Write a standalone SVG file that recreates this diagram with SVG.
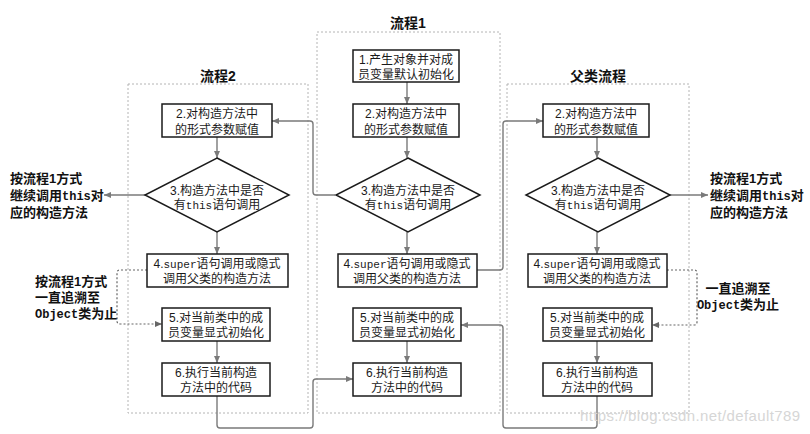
<svg xmlns="http://www.w3.org/2000/svg" width="810" height="434" viewBox="0 0 810 434">
<defs>
<marker id="ah" markerUnits="userSpaceOnUse" markerWidth="8" markerHeight="7" refX="7" refY="3.5" orient="auto">
<path d="M0,0.5 L7,3.5 L0,6.5 z" fill="#7a7a7a"/>
</marker>
<marker id="ahd" markerUnits="userSpaceOnUse" markerWidth="8" markerHeight="7" refX="7" refY="3.5" orient="auto">
<path d="M0,0.5 L7,3.5 L0,6.5 z" fill="#666"/>
</marker>
</defs>
<style>
.cont{fill:none;stroke:#b4b4b4;stroke-width:1;stroke-dasharray:2 2}
.box{fill:#fff;stroke:#1a1a1a;stroke-width:1.5}
.dia{fill:#fff;stroke:#1a1a1a;stroke-width:1.5}
.t{font-family:"Liberation Sans","Noto Sans CJK SC",sans-serif;font-size:12px;fill:#1a1a1a;text-anchor:middle}
.m{font-family:"Liberation Mono","Noto Sans CJK SC",monospace;font-size:11px}
.title{font-family:"Liberation Sans","Noto Sans CJK SC",sans-serif;font-size:14px;font-weight:bold;fill:#111;text-anchor:middle}
.lb{font-family:"Liberation Sans","Noto Sans CJK SC",sans-serif;font-size:13px;font-weight:bold;fill:#111}
.lbm{font-family:"Liberation Mono","Noto Sans CJK SC",monospace;font-size:12px;font-weight:bold}
.c{fill:none;stroke:#7a7a7a;stroke-width:1.4;marker-end:url(#ah)}
.d{fill:none;stroke:#666;stroke-width:1.2;stroke-dasharray:2 2;marker-end:url(#ahd)}
.wm{font-family:"Liberation Sans",Arial,sans-serif;font-size:15px;fill:#d6d6d6}
</style>
<rect x="0" y="0" width="810" height="434" fill="#fff"/>

<g id="containers">
<rect class="cont" x="128" y="84" width="180" height="329"/>
<rect class="cont" x="317" y="32" width="183" height="381"/>
<rect class="cont" x="507" y="84" width="182" height="329"/>
</g>
<g id="titles">
<text class="title" x="408" y="28">流程1</text>
<text class="title" x="218" y="81">流程2</text>
<text class="title" x="598" y="81">父类流程</text>
</g>

<g id="connectors">
<path class="c" d="M407,82 V104"/>
<path class="c" d="M407,137 V158"/>
<path class="c" d="M407,232 V254"/>
<path class="c" d="M407,341 V363"/>
<path class="c" d="M217,137 V158"/>
<path class="c" d="M217,232 V254"/>
<path class="c" d="M217,341 V363"/>
<path class="c" d="M597,137 V158"/>
<path class="c" d="M597,232 V254"/>
<path class="c" d="M597,341 V363"/>
<path class="c" d="M335,195 H316 Q313,195 313,192 V124 Q313,121 310,121 H272"/>
<path class="c" d="M477,270 H500 Q503,270 503,267 V124 Q503,121 506,121 H543"/>
<path class="c" d="M217,396 V425 Q217,428 220,428 H310 Q313,428 313,425 V382 Q313,379 316,379 H353"/>
<path class="c" d="M597,396 V425 Q597,428 594,428 H506 Q503,428 503,425 V328 Q503,325 500,325 H461"/>
<path class="c" d="M145,195 H104"/>
<path class="c" d="M669,195 H708"/>
<path class="d" d="M147,270 H120 Q117,270 117,273 V321 Q117,324 120,324 H162"/>
<path class="d" d="M667,270 H694 Q697,270 697,273 V322 Q697,325 694,325 H652"/>
</g>

<g id="m1"><rect class="box" x="353" y="50" width="106" height="32"/>
<text class="t" x="406" y="64">1.产生对象并对成</text><text class="t" x="406" y="79">员变量默认初始化</text></g>
<g id="m2"><rect class="box" x="353" y="104" width="106" height="33"/>
<text class="t" x="406" y="118">2.对构造方法中</text><text class="t" x="406" y="134">的形式参数赋值</text></g>
<g id="m3"><polygon class="dia" points="408,158 480,195 408,232 336,195"/>
<text class="t" x="408" y="195">3.构造方法中是否</text><text class="t" x="408" y="209">有<tspan class="m">this</tspan>语句调用</text></g>
<g id="m4"><rect class="box" x="338" y="254" width="139" height="33"/>
<text class="t" x="407" y="268">4.<tspan class="m">super</tspan>语句调用或隐式</text><text class="t" x="407" y="283">调用父类的构造方法</text></g>
<g id="m5"><rect class="box" x="353" y="308" width="108" height="33"/>
<text class="t" x="407" y="322">5.对当前类中的成</text><text class="t" x="407" y="337">员变量显式初始化</text></g>
<g id="m6"><rect class="box" x="353" y="363" width="108" height="33"/>
<text class="t" x="407" y="377">6.执行当前构造</text><text class="t" x="407" y="392">方法中的代码</text></g>

<g id="l2"><rect class="box" x="162" y="104" width="110" height="33"/>
<text class="t" x="217" y="118">2.对构造方法中</text><text class="t" x="217" y="134">的形式参数赋值</text></g>
<g id="l3"><polygon class="dia" points="217,158 289,195 217,232 145,195"/>
<text class="t" x="217" y="195">3.构造方法中是否</text><text class="t" x="217" y="209">有<tspan class="m">this</tspan>语句调用</text></g>
<g id="l4"><rect class="box" x="147" y="254" width="141" height="33"/>
<text class="t" x="217" y="268">4.<tspan class="m">super</tspan>语句调用或隐式</text><text class="t" x="217" y="283">调用父类的构造方法</text></g>
<g id="l5"><rect class="box" x="162" y="308" width="108" height="33"/>
<text class="t" x="216" y="322">5.对当前类中的成</text><text class="t" x="216" y="337">员变量显式初始化</text></g>
<g id="l6"><rect class="box" x="162" y="363" width="108" height="33"/>
<text class="t" x="216" y="377">6.执行当前构造</text><text class="t" x="216" y="392">方法中的代码</text></g>

<g id="r2"><rect class="box" x="543" y="104" width="106" height="33"/>
<text class="t" x="596" y="118">2.对构造方法中</text><text class="t" x="596" y="134">的形式参数赋值</text></g>
<g id="r3"><polygon class="dia" points="598,158 670,195 598,232 526,195"/>
<text class="t" x="598" y="195">3.构造方法中是否</text><text class="t" x="598" y="209">有<tspan class="m">this</tspan>语句调用</text></g>
<g id="r4"><rect class="box" x="528" y="254" width="139" height="33"/>
<text class="t" x="597" y="268">4.<tspan class="m">super</tspan>语句调用或隐式</text><text class="t" x="597" y="283">调用父类的构造方法</text></g>
<g id="r5"><rect class="box" x="543" y="308" width="109" height="33"/>
<text class="t" x="597" y="322">5.对当前类中的成</text><text class="t" x="597" y="337">员变量显式初始化</text></g>
<g id="r6"><rect class="box" x="543" y="363" width="109" height="33"/>
<text class="t" x="597" y="377">6.执行当前构造</text><text class="t" x="597" y="392">方法中的代码</text></g>

<g id="labels">
<text class="lb" x="10" y="183">按流程1方式</text>
<text class="lb" x="10" y="200">继续调用<tspan class="lbm">this</tspan>对</text>
<text class="lb" x="10" y="217">应的构造方法</text>
<text class="lb" x="710" y="183">按流程1方式</text>
<text class="lb" x="710" y="200">继续调用<tspan class="lbm">this</tspan>对</text>
<text class="lb" x="710" y="217">应的构造方法</text>
<text class="lb" x="35" y="286">按流程1方式</text>
<text class="lb" x="35" y="302">一直追溯至</text>
<text class="lb" x="35" y="318"><tspan class="lbm">Object</tspan>类为止</text>
<text class="lb" x="738" y="293" text-anchor="middle">一直追溯至</text>
<text class="lb" x="738" y="309" text-anchor="middle"><tspan class="lbm">Object</tspan>类为止</text>
</g>
<text class="wm" x="580" y="421" textLength="220">https://blog.csdn.net/default789</text>
</svg>
